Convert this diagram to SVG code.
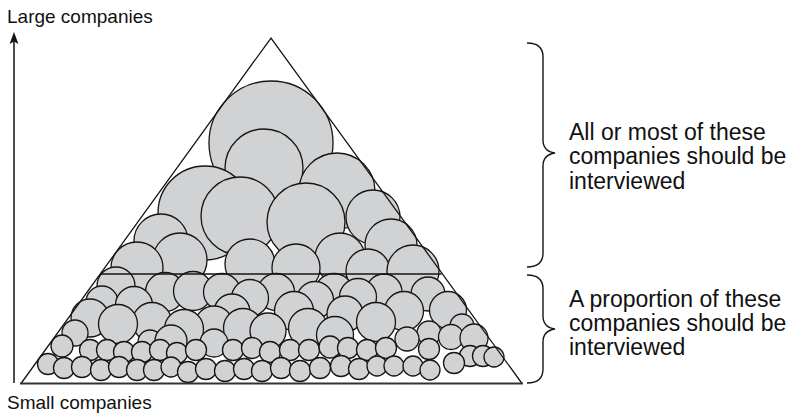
<svg xmlns="http://www.w3.org/2000/svg" width="787" height="417" viewBox="0 0 787 417">
  <style>
    .txt { font-family: "Liberation Sans", Arial, sans-serif; fill: #111; }
    .axis-lbl { font-size: 19px; }
    .note { font-size: 23px; }
    .co circle { fill: #d1d2d4; stroke: #151515; stroke-width: 1.3; }
    .edge { fill: none; stroke: #151515; stroke-width: 1.3; }
    .brace { fill: none; stroke: #151515; stroke-width: 1.4; }
  </style>

  <rect width="787" height="417" fill="#fff"/>

  <!-- size axis -->
  <g id="axis">
    <line x1="14" y1="383" x2="14" y2="40" stroke="#151515" stroke-width="1.5"/>
    <path d="M14,32 L18.5,44 L14,41.5 L9.5,44 Z" fill="#151515"/>
    <text class="txt axis-lbl" x="7" y="23">Large companies</text>
    <text class="txt axis-lbl" x="7" y="409">Small companies</text>
  </g>

  <!-- companies as circles, upper (large) tier -->
  <g id="large-companies" class="co">
    <circle cx="271" cy="143" r="62"/>
    <circle cx="264" cy="168" r="39"/>
    <circle cx="337" cy="191" r="38"/>
    <circle cx="205" cy="213" r="47"/>
    <circle cx="373" cy="217" r="27"/>
    <circle cx="240" cy="216" r="39"/>
    <circle cx="306" cy="222" r="39"/>
    <circle cx="161" cy="241" r="27"/>
    <circle cx="391" cy="245" r="26"/>
    <circle cx="340" cy="258" r="25"/>
    <circle cx="180" cy="260" r="27"/>
    <circle cx="250" cy="264" r="25"/>
    <circle cx="137" cy="268" r="26"/>
    <circle cx="296" cy="268" r="24"/>
    <circle cx="368" cy="271" r="22"/>
    <circle cx="413" cy="271" r="26"/>
  </g>

  <!-- lower tier: medium companies -->
  <g id="medium-companies" class="co">
    <circle cx="116" cy="286" r="19"/>
    <circle cx="165" cy="292" r="19.5"/>
    <circle cx="193" cy="291" r="19.5"/>
    <circle cx="222" cy="292" r="18.5"/>
    <circle cx="276" cy="292" r="18.5"/>
    <circle cx="334" cy="293" r="19.5"/>
    <circle cx="428" cy="294" r="17"/>
    <circle cx="384" cy="292" r="18"/>
    <circle cx="358" cy="297" r="18.5"/>
    <circle cx="250" cy="298" r="18.5"/>
    <circle cx="315" cy="300" r="18.5"/>
    <circle cx="102" cy="302" r="16"/>
    <circle cx="134" cy="305" r="18.5"/>
    <circle cx="232" cy="312" r="18"/>
    <circle cx="345" cy="314" r="18"/>
    <circle cx="404" cy="311" r="19.5"/>
    <circle cx="448" cy="310" r="18.5"/>
    <circle cx="294" cy="311" r="19.5"/>
    <circle cx="90" cy="318" r="19"/>
    <circle cx="152" cy="322" r="19.5"/>
    <circle cx="118" cy="324" r="19.5"/>
    <circle cx="214" cy="325" r="19"/>
    <circle cx="376" cy="322" r="19.5"/>
    <circle cx="462" cy="326" r="12"/>
    <circle cx="243" cy="328" r="19.5"/>
    <circle cx="308" cy="328" r="19.5"/>
    <circle cx="184" cy="329" r="19.5"/>
    <circle cx="268" cy="331" r="18"/>
    <circle cx="429" cy="333" r="12"/>
    <circle cx="335" cy="335" r="18.5"/>
    <circle cx="451" cy="337" r="12.5"/>
    <circle cx="474" cy="338" r="14"/>
    <circle cx="407" cy="339" r="12"/>
    <circle cx="150" cy="342" r="12"/>
    <circle cx="171" cy="341" r="16"/>
    <circle cx="214" cy="343" r="14"/>
  </g>

  <!-- lower tier: small companies -->
  <g id="small-companies" class="co">
    <circle cx="75" cy="333" r="13"/>
    <circle cx="62" cy="346" r="11"/>
    <circle cx="90" cy="350" r="10.5"/>
    <circle cx="107" cy="350" r="10.5"/>
    <circle cx="124" cy="352" r="10.5"/>
    <circle cx="142" cy="352" r="10.5"/>
    <circle cx="160" cy="350" r="10.5"/>
    <circle cx="177" cy="353" r="10.5"/>
    <circle cx="196" cy="350" r="10.5"/>
    <circle cx="233" cy="350" r="10.5"/>
    <circle cx="252" cy="348" r="10.5"/>
    <circle cx="270" cy="352" r="10.5"/>
    <circle cx="290" cy="350" r="10.5"/>
    <circle cx="309" cy="350" r="10.5"/>
    <circle cx="330" cy="347" r="11"/>
    <circle cx="348" cy="348" r="10.5"/>
    <circle cx="367" cy="350" r="10.5"/>
    <circle cx="386" cy="348" r="10.5"/>
    <circle cx="429" cy="349" r="10.5"/>
    <circle cx="470" cy="356" r="10.5"/>
    <circle cx="483" cy="356" r="10.5"/>
    <circle cx="494" cy="357" r="10"/>
    <circle cx="48" cy="364" r="10.5"/>
    <circle cx="64" cy="368" r="10.5"/>
    <circle cx="82" cy="367" r="10.5"/>
    <circle cx="101" cy="370" r="10.5"/>
    <circle cx="119" cy="367" r="10.5"/>
    <circle cx="137" cy="370" r="10.5"/>
    <circle cx="154" cy="370" r="10.5"/>
    <circle cx="171" cy="367" r="10"/>
    <circle cx="188" cy="372" r="10.5"/>
    <circle cx="206" cy="369" r="10.5"/>
    <circle cx="225" cy="371" r="10.5"/>
    <circle cx="244" cy="369" r="10.5"/>
    <circle cx="262" cy="371" r="10.5"/>
    <circle cx="281" cy="368" r="10.5"/>
    <circle cx="300" cy="371" r="10.5"/>
    <circle cx="320" cy="368" r="10.5"/>
    <circle cx="341" cy="366" r="10.5"/>
    <circle cx="359" cy="369" r="10.5"/>
    <circle cx="377" cy="366" r="10"/>
    <circle cx="394" cy="366" r="10"/>
    <circle cx="413" cy="366" r="10"/>
    <circle cx="430" cy="370" r="10"/>
    <circle cx="454" cy="363" r="10.5"/>
  </g>

  <!-- pyramid outline and tier divider -->
  <g id="pyramid">
    <path class="edge" d="M21,383.5 L271,38 L522,383.5"/>
    <line x1="100.5" y1="274" x2="441.5" y2="274" stroke="#151515" stroke-width="1.6"/>
    <line x1="20" y1="383.5" x2="523" y2="383.5" stroke="#333" stroke-width="2.2"/>
  </g>

  <!-- tier annotations -->
  <g id="connectors">
    <path class="brace" d="M527,43 C537,43 543,47 543,57 L543,140 C543,149 548,152 555,153 C548,154 543,157 543,166 L543,253 C543,263 537,267 527,267"/>
    <path class="brace" d="M527,275 C537,275 543,279 543,289 L543,316 C543,325 548,328 555,329 C548,330 543,333 543,342 L543,369 C543,379 537,383 527,383"/>
  </g>
  <g id="note-upper">
    <text class="txt note" x="569" y="140">All or most of these</text>
    <text class="txt note" x="569" y="164">companies should be</text>
    <text class="txt note" x="569" y="189">interviewed</text>
  </g>
  <g id="note-lower">
    <text class="txt note" x="569" y="307">A proportion of these</text>
    <text class="txt note" x="569" y="331">companies should be</text>
    <text class="txt note" x="569" y="355">interviewed</text>
  </g>
</svg>
